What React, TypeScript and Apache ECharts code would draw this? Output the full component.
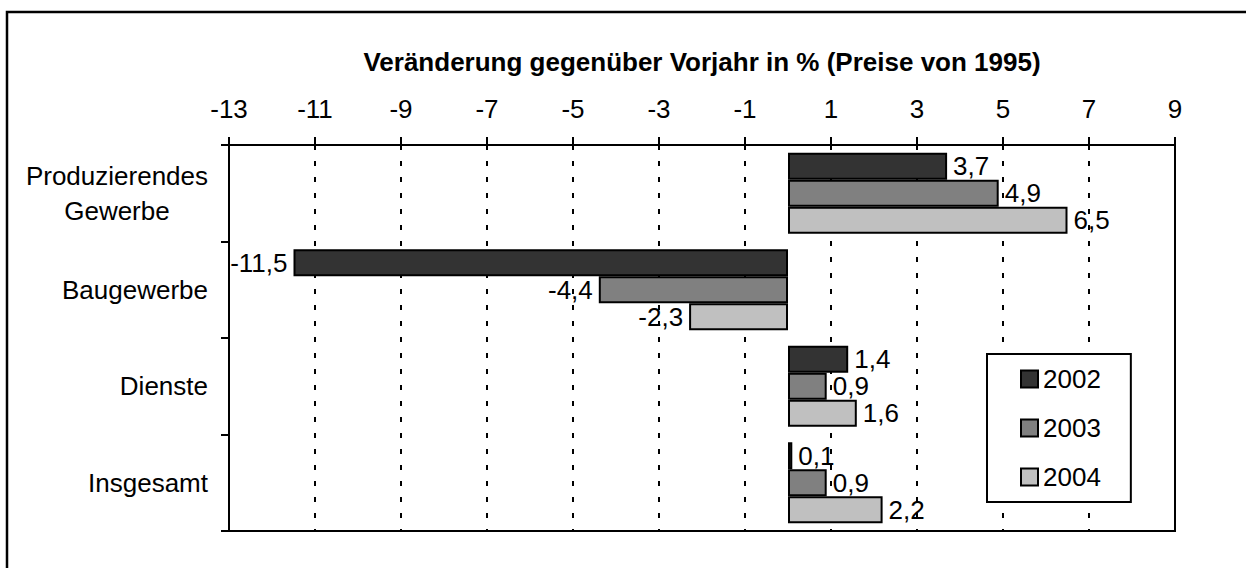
import React, { useEffect, useRef } from "react";
import * as echarts from "echarts";

const categories = ["Produzierendes\nGewerbe", "Baugewerbe", "Dienste", "Insgesamt"];
const seriesNames = ["2002", "2003", "2004"];
const values2002 = [3.7, -11.5, 1.4, 0.1];
const values2003 = [4.9, -4.4, 0.9, 0.9];
const values2004 = [6.5, -2.3, 1.6, 2.2];
const seriesColors = ["#333333", "#808080", "#c0c0c0"];
const axisTitle = "Veränderung gegenüber Vorjahr in % (Preise von 1995)";
const xMin = -13;
const xMax = 9;
const xInterval = 2;

const FONT = 'Arial, "Liberation Sans", sans-serif';
const FS = 26;

export default function App() {
  const ref = useRef<HTMLDivElement>(null);
  useEffect(() => {
    if (!ref.current) return;
    const chart = echarts.init(ref.current, undefined, { renderer: "svg" });
    const all = [values2002, values2003, values2004];
    const fmt = (v: number) => String(v).replace(".", ",");
    const series = all.map((vals, i) => ({
      name: seriesNames[i],
      type: "bar",
      xAxisIndex: 0,
      yAxisIndex: 0,
      barWidth: 27,
      barGap: "0%",
      itemStyle: { color: seriesColors[i], borderColor: "#000", borderWidth: 2 },
      data: vals.map((v) => ({
        value: v,
        label: {
          show: true,
          position: v < 0 ? "left" : "right",
          distance: 6,
          formatter: () => fmt(v),
          color: "#000",
          fontSize: FS,
          fontFamily: FONT,
        },
      })),
    }));
    chart.setOption({
      animation: false,
      backgroundColor: "#fff",
      textStyle: { fontFamily: FONT },
      graphic: [
        {
          type: "rect",
          shape: { x: 7, y: 12, width: 1260, height: 600 },
          style: { fill: "none", stroke: "#000", lineWidth: 2.5 },
          z: 100,
        },
      ],
      grid: {
        left: 229,
        top: 145,
        width: 946,
        height: 386,
        show: true,
        borderColor: "#000",
        borderWidth: 2,
        backgroundColor: "transparent",
      },
      legend: {
        orient: "vertical",
        left: 987,
        top: 354,
        width: 144,
        padding: [12, 30, 12, 33],
        itemGap: 23,
        itemWidth: 17,
        itemHeight: 17,
        borderColor: "#000",
        borderWidth: 2,
        backgroundColor: "#fff",
        icon: "rect",
        data: seriesNames,
        textStyle: { fontSize: FS, color: "#000", fontFamily: FONT, lineHeight: 26 },
      },
      xAxis: {
        type: "value",
        position: "top",
        min: xMin,
        max: xMax,
        interval: xInterval,
        name: axisTitle,
        nameLocation: "middle",
        nameGap: 70,
        nameTextStyle: { fontSize: FS, fontWeight: "bold", color: "#000", fontFamily: FONT },
        axisLine: { show: true, onZero: false, lineStyle: { color: "#000", width: 2 } },
        axisTick: { show: true, length: 8, lineStyle: { color: "#000", width: 2 } },
        axisLabel: { fontSize: FS, color: "#000", margin: 23, fontFamily: FONT },
        splitLine: { show: true, lineStyle: { color: "#000", width: 2, type: [5, 11] } },
      },
      yAxis: [
        {
          type: "category",
          inverse: true,
          position: "left",
          data: categories,
          axisLine: { show: false },
          axisTick: { show: false },
          splitLine: { show: false },
          axisLabel: {
            margin: 21,
            fontSize: FS,
            color: "#000",
            fontFamily: FONT,
            lineHeight: 35,
            formatter: (v: string) =>
              v.includes("\n") ? v.split("\n").map((s) => `{c|${s}}`).join("\n") : v,
            rich: {
              c: { align: "center", fontSize: FS, color: "#000", fontFamily: FONT, lineHeight: 35 },
            },
          },
        },
        {
          type: "category",
          inverse: true,
          position: "left",
          data: categories,
          axisLine: { show: true, onZero: true, lineStyle: { color: "#000", width: 2 } },
          axisTick: { show: true, length: 8, lineStyle: { color: "#000", width: 2 } },
          axisLabel: { show: false },
          splitLine: { show: false },
        },
      ],
      series,
    });
    return () => chart.dispose();
  }, []);
  return (
    <div
      ref={ref}
      style={{ position: "absolute", left: 0, top: 0, width: 1246, height: 568 }}
    />
  );
}
